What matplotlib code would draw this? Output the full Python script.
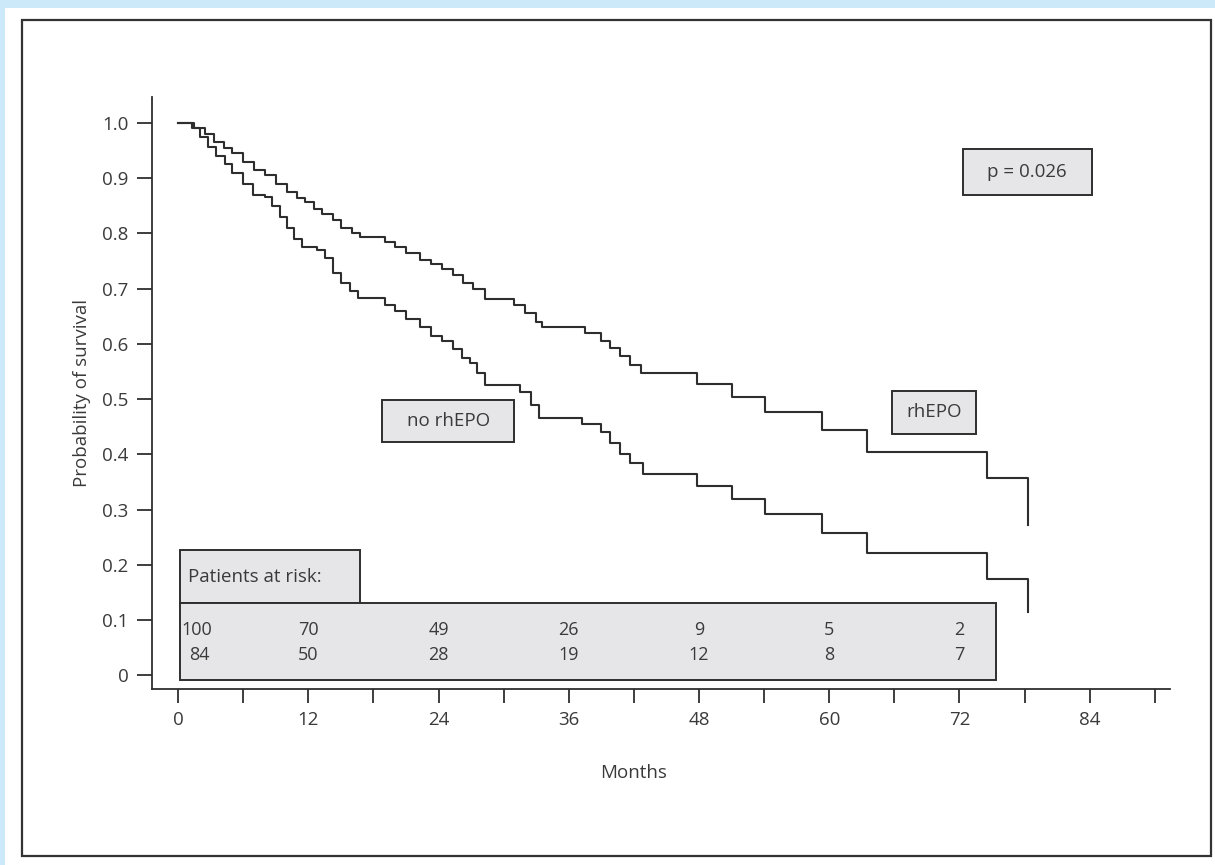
import matplotlib
matplotlib.use("Agg")
import matplotlib.pyplot as plt
from matplotlib.patches import Rectangle

# Kaplan-Meier curves (months, survival)
rhepo_t = [0, 1.5, 2.5, 3.3, 4.2, 5, 6, 7, 8, 9, 10, 11, 11.7, 12.5, 13.3, 14.3, 15, 16,
           16.8, 19.1, 20, 21, 22.3, 23.3, 24.3, 25.3, 26.3, 27.2, 28.3, 31, 32, 33, 33.5,
           37.5, 39, 39.8, 40.7, 41.6, 42.7, 47.8, 51, 54.1, 59.3, 63.5, 74.5, 78.3]
rhepo_s = [1.0, 0.99, 0.98, 0.965, 0.955, 0.945, 0.93, 0.915, 0.905, 0.89, 0.875, 0.865,
           0.857, 0.845, 0.835, 0.824, 0.81, 0.80, 0.793, 0.785, 0.775, 0.765, 0.752, 0.745,
           0.735, 0.725, 0.71, 0.70, 0.681, 0.67, 0.655, 0.64, 0.63, 0.62, 0.605, 0.592,
           0.578, 0.562, 0.547, 0.527, 0.503, 0.476, 0.444, 0.404, 0.357, 0.272]

no_rhepo_t = [0, 1.3, 2, 2.8, 3.5, 4.3, 5, 6, 6.9, 8, 8.7, 9.4, 10, 10.7, 11.4, 12.8, 13.5,
              14.3, 15, 15.8, 16.6, 19.1, 20, 21, 22.3, 23.3, 24.3, 25.3, 26.2, 26.9, 27.5,
              28.3, 31.5, 32.5, 33.3, 37.2, 39, 39.8, 40.7, 41.6, 42.8, 47.8, 51, 54.1,
              59.3, 63.5, 74.5, 78.3]
no_rhepo_s = [1.0, 0.99, 0.975, 0.957, 0.94, 0.925, 0.91, 0.89, 0.87, 0.866, 0.85, 0.83,
              0.81, 0.79, 0.775, 0.77, 0.755, 0.728, 0.71, 0.695, 0.683, 0.67, 0.66, 0.645,
              0.63, 0.615, 0.605, 0.59, 0.575, 0.565, 0.547, 0.525, 0.513, 0.49, 0.466,
              0.455, 0.44, 0.42, 0.40, 0.384, 0.364, 0.342, 0.319, 0.292, 0.257, 0.222,
              0.175, 0.114]

risk_months = [0, 12, 24, 36, 48, 60, 72]
risk_rhepo = [100, 70, 49, 26, 9, 5, 2]
risk_no_rhepo = [84, 50, 28, 19, 12, 8, 7]

x_major = [0, 12, 24, 36, 48, 60, 72, 84]
x_minor = [6, 18, 30, 42, 54, 66, 78, 90]
y_ticks = [0, 0.1, 0.2, 0.3, 0.4, 0.5, 0.6, 0.7, 0.8, 0.9, 1.0]
y_labels = ["0", "0.1", "0.2", "0.3", "0.4", "0.5", "0.6", "0.7", "0.8", "0.9", "1.0"]

plt.rcParams['font.family'] = ['Open Sans', 'DejaVu Sans']
txt = '#3a3a3a'
line = '#2e2e2e'
box_fill = '#e6e6e8'
fs = 13.5

W, H = 1215, 865
fig = plt.figure(figsize=(W / 100, H / 100), dpi=100, facecolor='#cbe9f8')

# white panel with dark frame
fig.patches.append(Rectangle((5 / W, 0), 1 - 5 / W, 1 - 8 / H, transform=fig.transFigure,
                             facecolor='white', edgecolor='none', zorder=-2))
fig.patches.append(Rectangle((22 / W, 9 / H), 1189 / W, 836 / H, transform=fig.transFigure,
                             facecolor='none', edgecolor='#333333', lw=1.6, zorder=-1))

ax = fig.add_axes([152 / W, 176 / H, 1018 / W, 592 / H])
ax.set_zorder(2)
ax.set_facecolor('none')

ax.plot(rhepo_t, rhepo_s, drawstyle='steps-post', color=line, lw=1.5)
ax.plot(no_rhepo_t, no_rhepo_s, drawstyle='steps-post', color=line, lw=1.5)

ax.set_xlim(-2.4, 91.4)
ax.set_ylim(-0.025, 1.047)
for s in ['top', 'right']:
    ax.spines[s].set_visible(False)
for s in ['left', 'bottom']:
    ax.spines[s].set_color(line)
    ax.spines[s].set_linewidth(1.3)

ax.set_xticks(x_major)
ax.set_xticks(x_minor, minor=True)
ax.set_yticks(y_ticks)
ax.set_yticklabels(y_labels)
ax.tick_params(axis='both', which='both', direction='out', colors=line, width=1.3,
               labelcolor=txt, labelsize=fs)
ax.tick_params(axis='x', which='both', length=10, pad=6)
ax.tick_params(axis='y', length=11, pad=6)

ax.set_ylabel('Probability of survival', fontsize=fs, color=txt, labelpad=8)
ax.text(42, -0.178, 'Months', ha='center', va='center', fontsize=fs, color=txt)


def label_box(x0, x1, y0, y1, text):
    ax.add_patch(Rectangle((x0, y0), x1 - x0, y1 - y0, facecolor=box_fill,
                           edgecolor=line, lw=1.4, zorder=3))
    ax.text((x0 + x1) / 2, (y0 + y1) / 2, text, ha='center', va='center',
            fontsize=fs, color=txt, zorder=4)


label_box(72.3, 84.2, 0.87, 0.953, 'p = 0.026')
label_box(65.8, 73.5, 0.437, 0.515, 'rhEPO')
label_box(18.8, 31.0, 0.423, 0.498, 'no rhEPO')

# patients at risk table
ax.add_patch(Rectangle((0.2, 0.13), 16.6, 0.096, facecolor=box_fill, edgecolor=line,
                       lw=1.4, zorder=3))
ax.text(0.9, 0.178, 'Patients at risk:', ha='left', va='center', fontsize=fs,
        color=txt, zorder=4)
ax.add_patch(Rectangle((0.2, -0.009), 75.2, 0.139, facecolor=box_fill, edgecolor=line,
                       lw=1.4, zorder=3))
for i, m in enumerate(risk_months):
    xm = m + 1.7 if i == 0 else m
    ax.text(xm, 0.081, str(risk_rhepo[i]), ha='center', va='center', fontsize=13,
            color=txt, zorder=4)
    ax.text(xm + (0.3 if i == 0 else 0), 0.036, str(risk_no_rhepo[i]), ha='center',
            va='center', fontsize=13, color=txt, zorder=4)

fig.savefig('out.png', dpi=100, facecolor=fig.get_facecolor())
